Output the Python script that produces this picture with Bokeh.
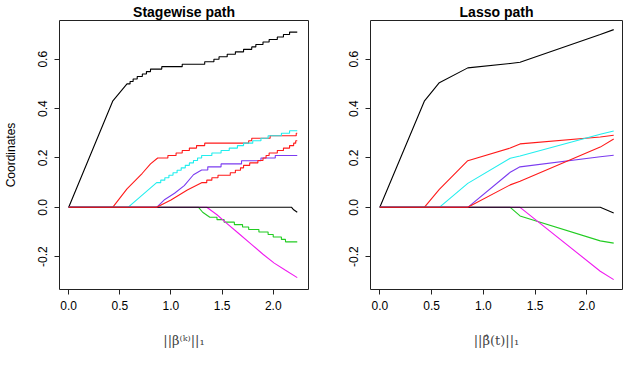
from bokeh.plotting import figure
from bokeh.layouts import row
from bokeh.models import Range1d, FixedTicker
from bokeh.embed import file_html
from bokeh.resources import INLINE

# ---------------- data ----------------
x_ticks = [0.0, 0.5, 1.0, 1.5, 2.0]
x_tick_labels = ["0.0", "0.5", "1.0", "1.5", "2.0"]
y_ticks = [-0.2, 0.0, 0.2, 0.4, 0.6]
y_tick_labels = ["-0.2", "0.0", "0.2", "0.4", "0.6"]

series_names = ["black1", "red1", "green", "blue", "cyan", "magenta", "black2", "red2"]
series_colors = ["#000000", "#FF1A1A", "#22CC22", "#7B3CF0", "#22EEEE", "#F01AF0", "#000000", "#FF1A1A"]

sw_end = 2.235

# Stagewise: smooth part (x, y) then staircase (x where level changes, new level)
sw_black1_rx = [0.0, 0.43, 0.57]
sw_black1_ry = [0.0, 0.43, 0.50]
sw_black1_sx = [0.60, 0.63, 0.67, 0.72, 0.76, 0.80, 0.91, 1.11, 1.33, 1.42, 1.47,
                1.55, 1.63, 1.71, 1.79, 1.83, 1.90, 1.96, 2.04, 2.10, 2.16]
sw_black1_sy = [0.51, 0.52, 0.53, 0.54, 0.55, 0.56, 0.57, 0.58, 0.59, 0.60, 0.61,
                0.62, 0.63, 0.64, 0.65, 0.66, 0.67, 0.68, 0.69, 0.70, 0.71]

sw_red1_rx = [0.0, 0.43, 0.57, 0.72, 0.80, 0.87]
sw_red1_ry = [0.0, 0.0, 0.075, 0.138, 0.176, 0.20]
sw_red1_sx = [0.97, 1.05, 1.11, 1.18, 1.25, 1.33, 1.76, 1.79, 1.97, 2.225]
sw_red1_sy = [0.21, 0.22, 0.23, 0.24, 0.25, 0.26, 0.27, 0.28, 0.29, 0.30]

sw_green_rx = [0.0, 1.27, 1.31, 1.38]
sw_green_ry = [0.0, 0.0, -0.02, -0.04]
sw_green_sx = [1.45, 1.52, 1.62, 1.70, 1.76, 1.86, 1.95, 2.00, 2.08, 2.12]
sw_green_sy = [-0.05, -0.06, -0.07, -0.08, -0.09, -0.10, -0.11, -0.12, -0.13, -0.14]

sw_blue_rx = [0.0, 0.86, 0.94, 1.035, 1.13, 1.22, 1.30]
sw_blue_ry = [0.0, 0.0, 0.032, 0.057, 0.088, 0.132, 0.151]
sw_blue_sx = [1.36, 1.49, 1.69, 1.88, 2.02]
sw_blue_sy = [0.164, 0.176, 0.189, 0.20, 0.21]

sw_cyan_rx = [0.0, 0.58, 0.86]
sw_cyan_ry = [0.0, 0.0, 0.10]
sw_cyan_sx = [0.90, 0.94, 0.98, 1.02, 1.06, 1.10, 1.14, 1.18, 1.22, 1.26, 1.30,
              1.40, 1.49, 1.57, 1.65, 1.71, 1.80, 1.88, 1.95, 2.08, 2.16]
sw_cyan_sy = [0.11, 0.12, 0.13, 0.14, 0.15, 0.16, 0.17, 0.18, 0.19, 0.20, 0.21,
              0.22, 0.23, 0.24, 0.25, 0.26, 0.27, 0.28, 0.29, 0.30, 0.31]

sw_magenta_rx = [0.0, 1.35, 1.45, 1.54, 1.66, 1.79, 1.90, 2.01, 2.12, 2.235]
sw_magenta_ry = [0.0, 0.0, -0.03, -0.063, -0.105, -0.151, -0.19, -0.226, -0.255, -0.285]
sw_magenta_sx = []
sw_magenta_sy = []

sw_black2_rx = [0.0, 2.18, 2.20, 2.235]
sw_black2_ry = [0.0, 0.0, -0.01, -0.02]
sw_black2_sx = []
sw_black2_sy = []

sw_red2_rx = [0.0, 0.86, 1.0, 1.16, 1.30]
sw_red2_ry = [0.0, 0.0, 0.03, 0.07, 0.10]
sw_red2_sx = [1.35, 1.40, 1.46, 1.58, 1.63, 1.68, 1.71, 1.77, 1.85, 1.90, 1.93,
              1.96, 2.04, 2.10, 2.16, 2.20, 2.22]
sw_red2_sy = [0.11, 0.12, 0.13, 0.14, 0.15, 0.16, 0.17, 0.18, 0.19, 0.20, 0.21,
              0.22, 0.23, 0.24, 0.25, 0.26, 0.27]

# Lasso: knots of the piecewise-linear path
lasso_x = [0.0, 0.43, 0.575, 0.85, 1.26, 1.355, 2.13, 2.26]
lasso_black1 = [0.0, 0.43, 0.505, 0.565, 0.583, 0.588, 0.70, 0.72]
lasso_red1 = [0.0, 0.0, 0.073, 0.189, 0.24, 0.257, 0.285, 0.292]
lasso_green = [0.0, 0.0, 0.0, 0.0, 0.0, -0.035, -0.136, -0.145]
lasso_blue = [0.0, 0.0, 0.0, 0.0, 0.142, 0.164, 0.205, 0.211]
lasso_cyan = [0.0, 0.0, 0.0, 0.097, 0.199, 0.208, 0.296, 0.309]
lasso_magenta = [0.0, 0.0, 0.0, 0.0, 0.0, 0.0, -0.259, -0.293]
lasso_black2 = [0.0, 0.0, 0.0, 0.0, 0.0, 0.0, 0.0, -0.023]
lasso_red2 = [0.0, 0.0, 0.0, 0.0, 0.091, 0.106, 0.244, 0.277]

sw_xlabel = "||\u03b2\u207d\u1d4f\u207e||\u2081"
lasso_xlabel = "||\u03b2\u0302(t)||\u2081"

# ---------------- helpers ----------------
def stair_path(rx, ry, sx, sy, x_end):
    xs = list(rx)
    ys = list(ry)
    for a, b in zip(sx, sy):
        xs += [a, a]
        ys += [ys[-1], b]
    xs.append(x_end)
    ys.append(ys[-1])
    return xs, ys


def make_fig(title, xlabel, ylabel, left_border, right_border):
    p = figure(width=312, height=350, output_backend="svg", toolbar_location=None,
               x_range=Range1d(-0.09, 2.345), y_range=Range1d(-0.333, 0.757),
               min_border_left=left_border, min_border_right=right_border,
               min_border_top=0, min_border_bottom=61, title=title)
    p.title.align = "center"
    p.title.text_font = "Liberation Sans"
    p.title.text_font_size = "14px"
    p.title.text_font_style = "bold"
    p.title.text_color = "black"
    p.title.standoff = 2
    p.grid.visible = False
    p.outline_line_color = "#222222"
    p.outline_line_width = 1
    p.outline_line_alpha = 1.0
    p.background_fill_color = "white"
    p.border_fill_color = "white"

    xa = p.xaxis[0]
    ya = p.yaxis[0]
    xa.ticker = FixedTicker(ticks=x_ticks)
    xa.major_label_overrides = {t: l for t, l in zip(x_ticks, x_tick_labels)}
    ya.ticker = FixedTicker(ticks=y_ticks)
    ya.major_label_overrides = {t: l for t, l in zip(y_ticks, y_tick_labels)}
    ya.major_label_orientation = "vertical"
    for ax in (xa, ya):
        ax.axis_line_color = None
        ax.major_tick_in = 0
        ax.major_tick_out = 5
        ax.major_tick_line_color = "#222222"
        ax.minor_tick_line_color = None
        ax.major_label_text_font = "Liberation Sans"
        ax.major_label_text_font_size = "12px"
        ax.major_label_text_color = "black"
    xa.major_label_standoff = 6
    ya.major_label_standoff = 7

    xa.axis_label = xlabel
    xa.axis_label_text_font = "DejaVu Serif"
    xa.axis_label_text_font_size = "13px"
    xa.axis_label_text_font_style = "normal"
    xa.axis_label_text_color = "#444444"
    xa.axis_label_standoff = 20
    if ylabel:
        ya.axis_label = ylabel
        ya.axis_label_text_font = "Liberation Sans"
        ya.axis_label_text_font_size = "12px"
        ya.axis_label_text_font_style = "normal"
        ya.axis_label_text_color = "black"
        ya.axis_label_standoff = 18
    return p


# ---------------- stagewise ----------------
p1 = make_fig("Stagewise path", sw_xlabel, "Coordinates", 56, 4)
sw_series = [
    (sw_black1_rx, sw_black1_ry, sw_black1_sx, sw_black1_sy),
    (sw_red1_rx, sw_red1_ry, sw_red1_sx, sw_red1_sy),
    (sw_green_rx, sw_green_ry, sw_green_sx, sw_green_sy),
    (sw_blue_rx, sw_blue_ry, sw_blue_sx, sw_blue_sy),
    (sw_cyan_rx, sw_cyan_ry, sw_cyan_sx, sw_cyan_sy),
    (sw_magenta_rx, sw_magenta_ry, sw_magenta_sx, sw_magenta_sy),
    (sw_black2_rx, sw_black2_ry, sw_black2_sx, sw_black2_sy),
    (sw_red2_rx, sw_red2_ry, sw_red2_sx, sw_red2_sy),
]
for (rx, ry, sx, sy), col in zip(sw_series, series_colors):
    xs, ys = stair_path(rx, ry, sx, sy, sw_end)
    p1.line(xs, ys, line_color=col, line_width=1.1)

# ---------------- lasso ----------------
p2 = make_fig("Lasso path", lasso_xlabel, None, 58, 2)
lasso_series = [lasso_black1, lasso_red1, lasso_green, lasso_blue,
                lasso_cyan, lasso_magenta, lasso_black2, lasso_red2]
for ys, col in zip(lasso_series, series_colors):
    p2.line(lasso_x, ys, line_color=col, line_width=1.1)

layout = row(p1, p2)
open("out.html", "w").write(file_html(layout, INLINE))
